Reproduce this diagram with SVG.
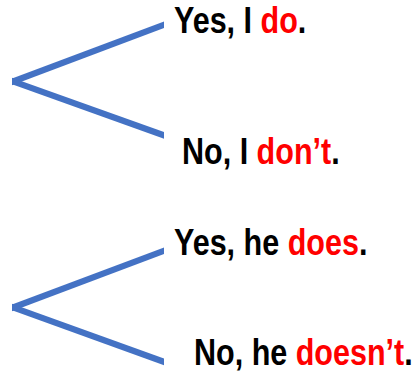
<svg xmlns="http://www.w3.org/2000/svg" width="415" height="376" viewBox="0 0 415 376">
<style>
.c{stroke:#4472C4;stroke-width:6.2;fill:none}
.t{font-family:"Liberation Sans",Arial,sans-serif;font-weight:bold;font-size:37px;fill:#000}
.r{fill:#FF0000}
</style>
<defs>
<clipPath id="clip"><rect x="12" y="0" width="152" height="376"/></clipPath>
</defs>
<g id="connectors" clip-path="url(#clip)">
<line class="c" x1="5" y1="84.5" x2="170" y2="22.5"/>
<line class="c" x1="5" y1="78.5" x2="170" y2="137.5"/>
<line class="c" x1="5" y1="310.5" x2="170" y2="248.5"/>
<line class="c" x1="5" y1="304.5" x2="170" y2="364"/>
</g>
<g id="n1"><text class="t" transform="translate(174,33) scale(0.825,1)">Yes, I <tspan class="r">do</tspan>.</text></g>
<g id="n2"><text class="t" transform="translate(182,163.5) scale(0.825,1)">No, I <tspan class="r">don’t</tspan>.</text></g>
<g id="n3"><text class="t" transform="translate(174,255) scale(0.825,1)">Yes, he <tspan class="r">does</tspan>.</text></g>
<g id="n4"><text class="t" transform="translate(194,364.5) scale(0.825,1)">No, he <tspan class="r">doesn’t</tspan>.</text></g>
</svg>
